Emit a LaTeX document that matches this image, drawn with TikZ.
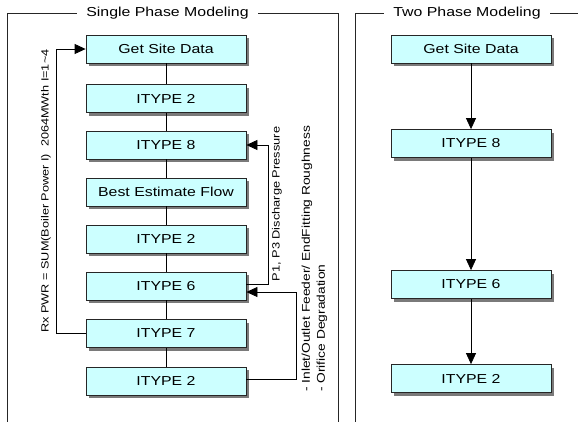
\documentclass[tikz,border=0pt]{standalone}
\usepackage{fontspec}
\setmainfont{Liberation Sans}[FakeStretch=1.22]
\usetikzlibrary{arrows.meta,shadows}
\definecolor{boxfill}{HTML}{CCFFFF}
\definecolor{shadowgray}{HTML}{7A7A7A}
\begin{document}
\begin{tikzpicture}[x=1pt,y=-1pt,
  blk/.style={draw=black!85, line width=0.8pt, fill=boxfill, minimum width=160pt, minimum height=28pt, inner sep=0pt, font=\fontsize{13}{15}\selectfont, drop shadow={shadow xshift=3pt, shadow yshift=-3pt, fill=shadowgray, opacity=1}},
  ttl/.style={font=\fontsize{13}{15}\selectfont, inner xsep=9.5pt, inner ysep=0pt},
  frame/.style={line width=0.8pt, draw=black!85},
  link/.style={line width=0.8pt},
  arr/.style={line width=0.8pt, -{Triangle[length=11pt,width=10pt]}},
  note/.style={rotate=90, inner sep=0pt}
]
\useasboundingbox (0,0) rectangle (578,421);
\fill[white] (0,0) rectangle (578,421);

% frames
\node[ttl] (t1) at (167.5,13) {Single Phase Modeling};
\node[ttl] (t2) at (467,13) {Two Phase Modeling};
\draw[frame] (7,425) |- (t1.west);
\draw[frame] (t1.east) -| (338,425);
\draw[frame] (355,425) |- (t2.west);
\draw[frame] (t2.east) -- ++(40,0);

% single phase
\node[blk] (a1) at (166,49) {Get Site Data};
\node[blk] (a2) at (166,98.5) {ITYPE 2};
\node[blk] (a3) at (166,145) {ITYPE 8};
\node[blk] (a4) at (166,192) {Best Estimate Flow};
\node[blk] (a5) at (166,239) {ITYPE 2};
\node[blk] (a6) at (166,286) {ITYPE 6};
\node[blk] (a7) at (166,333.5) {ITYPE 7};
\node[blk] (a8) at (166,381) {ITYPE 2};
\draw[link] (a1) -- (a2);
\draw[link] (a2) -- (a3);
\draw[link] (a3) -- (a4);
\draw[link] (a4) -- (a5);
\draw[link] (a5) -- (a6);
\draw[link] (a6) -- (a7);
\draw[link] (a7) -- (a8);

\draw[arr] (a7.west) -- ++(-29,0) |- (a1.west);
\draw[arr] ([yshift=1.5pt]a6.east) -- ++(22,0) |- (a3.east);
\draw[arr] ([yshift=2pt]a8.east) -- ++(50,0) |- ([yshift=-6pt]a6.east);

\node[note, font=\fontsize{10.4}{12}\selectfont] (rx) at (46,191) {Rx PWR = SUM(Boiler Power I)\ \ 2064MWth I=1\textasciitilde4};
\node[note, font=\fontsize{10.5}{12}\selectfont] (p1) at (277,204) {P1, P3 Discharge Pressure};
\node[note, anchor=west, align=left, font=\fontsize{11.3}{15}\selectfont] (inl) at (314.5,392) {- Inlet/Outlet Feeder/ EndFitting Roughness\\- Orifice Degradation};

% two phase
\node[blk] (b1) at (471,49) {Get Site Data};
\node[blk] (b2) at (471,143.5) {ITYPE 8};
\node[blk] (b3) at (471,284.5) {ITYPE 6};
\node[blk] (b4) at (471,378.5) {ITYPE 2};
\draw[arr] (b1) -- (b2);
\draw[arr] (b2) -- (b3);
\draw[arr] (b3) -- (b4);
\end{tikzpicture}
\end{document}
